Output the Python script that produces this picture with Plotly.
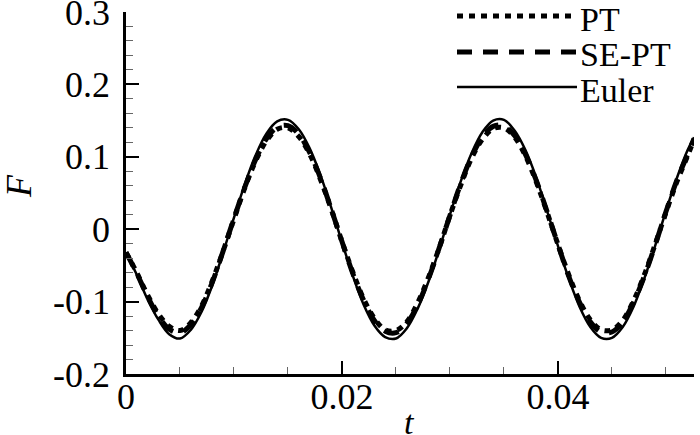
import plotly.graph_objects as go

# ---- data ----
t = [0.000, 0.001, 0.002, 0.003, 0.004, 0.005, 0.006, 0.007, 0.008, 0.009,
     0.010, 0.011, 0.012, 0.013, 0.014, 0.015, 0.016, 0.017, 0.018, 0.019,
     0.020, 0.021, 0.022, 0.023, 0.024, 0.025, 0.026, 0.027, 0.028, 0.029,
     0.030, 0.031, 0.032, 0.033, 0.034, 0.035, 0.036, 0.037, 0.038, 0.039,
     0.040, 0.041, 0.042, 0.043, 0.044, 0.045, 0.046, 0.047, 0.048, 0.049,
     0.050, 0.051, 0.052, 0.0526]

F_pt = [-0.032, -0.060, -0.091, -0.117, -0.134, -0.140, -0.129, -0.106, -0.071, -0.030,
        0.014, 0.057, 0.094, 0.122, 0.138, 0.140, 0.128, 0.104, 0.069, 0.028,
        -0.017, -0.059, -0.096, -0.123, -0.139, -0.140, -0.128, -0.102, -0.067, -0.026,
        0.019, 0.061, 0.098, 0.124, 0.139, 0.140, 0.127, 0.101, 0.065, 0.023,
        -0.021, -0.063, -0.099, -0.125, -0.139, -0.139, -0.126, -0.099, -0.063, -0.021,
        0.023, 0.065, 0.101, 0.124]

F_sept = [-0.032, -0.061, -0.093, -0.120, -0.138, -0.143, -0.132, -0.108, -0.073, -0.030,
          0.015, 0.058, 0.096, 0.125, 0.141, 0.143, 0.131, 0.106, 0.071, 0.028,
          -0.017, -0.061, -0.098, -0.126, -0.141, -0.143, -0.130, -0.105, -0.069, -0.026,
          0.019, 0.063, 0.100, 0.127, 0.142, 0.143, 0.129, 0.103, 0.067, 0.024,
          -0.021, -0.065, -0.101, -0.128, -0.142, -0.142, -0.128, -0.101, -0.065, -0.022,
          0.024, 0.067, 0.103, 0.125]

F_euler = [-0.032, -0.063, -0.097, -0.125, -0.145, -0.151, -0.139, -0.114, -0.077, -0.032,
           0.016, 0.062, 0.102, 0.132, 0.149, 0.151, 0.138, 0.112, 0.075, 0.030,
           -0.018, -0.064, -0.104, -0.133, -0.149, -0.151, -0.137, -0.110, -0.073, -0.028,
           0.020, 0.066, 0.105, 0.134, 0.150, 0.151, 0.136, 0.109, 0.071, 0.025,
           -0.023, -0.068, -0.107, -0.135, -0.150, -0.150, -0.135, -0.107, -0.068, -0.023,
           0.025, 0.070, 0.109, 0.127]

series_names = ["PT", "SE-PT", "Euler"]
x_tickvals = [0, 0.02, 0.04]
x_ticktext = ["0", "0.02", "0.04"]
y_tickvals = [-0.2, -0.1, 0, 0.1, 0.2, 0.3]
y_ticktext = ["-0.2", "-0.1", "0", "0.1", "0.2", "0.3"]

FONT = "Liberation Serif, Times New Roman, serif"
styles = [
    dict(width=5, dash="6px,6px"),
    dict(width=5, dash="15px,11px"),
    dict(width=2.5, dash="solid"),
]

fig = go.Figure()
for name, ys, st in zip(series_names, [F_pt, F_sept, F_euler], styles):
    fig.add_trace(go.Scatter(
        x=t, y=ys, mode="lines", name=name, showlegend=False,
        line=dict(color="black", width=st["width"], dash=st["dash"],
                  shape="spline", smoothing=1.0),
    ))

# ---- manual legend (long line samples like the reference) ----
L, T_, W, H = 126, 12, 568, 362
def px(xp):
    return (xp - L) / W
def py(yp):
    return (T_ + H - yp) / H

legend_rows = [16, 52, 87]
for name, st, yrow in zip(series_names, styles, legend_rows):
    fig.add_shape(type="line", xref="paper", yref="paper",
                  x0=px(457), x1=px(577), y0=py(yrow), y1=py(yrow),
                  line=dict(color="black", width=st["width"], dash=st["dash"]))
    fig.add_annotation(text=name, xref="paper", yref="paper",
                       x=px(578), y=py(yrow + 3), xanchor="left", yanchor="middle",
                       showarrow=False, font=dict(family=FONT, size=34, color="black"))

# axis titles
fig.add_annotation(text="<i>t</i>", xref="paper", yref="paper",
                   x=px(409), y=py(422), xanchor="center", yanchor="middle",
                   showarrow=False, font=dict(family=FONT, size=34, color="black"))
fig.add_annotation(text="<i>F</i>", xref="paper", yref="paper",
                   x=px(19), y=py(186), xanchor="center", yanchor="middle",
                   textangle=-90, showarrow=False,
                   font=dict(family=FONT, size=36, color="black"))

fig.update_layout(
    width=700, height=435,
    margin=dict(l=L, r=700 - L - W, t=T_, b=435 - T_ - H, autoexpand=False),
    paper_bgcolor="white", plot_bgcolor="white",
    font=dict(family=FONT, size=36, color="black"),
    xaxis=dict(range=[0, 0.0526], showgrid=False, zeroline=False,
               showline=True, linecolor="black", linewidth=2.5,
               tickvals=x_tickvals, ticktext=x_ticktext,
               ticks="inside", ticklen=13, tickwidth=2, tickcolor="black",
               ticklabelstandoff=-11, ticklabeloverflow="allow",
               minor=dict(dtick=0.005, tick0=0, ticks="inside", ticklen=7,
                          tickwidth=1, tickcolor="#666", showgrid=False),
               tickfont=dict(family=FONT, size=36, color="black")),
    yaxis=dict(range=[-0.2, 0.3], showgrid=False, zeroline=False,
               showline=True, linecolor="black", linewidth=2.5,
               tickvals=y_tickvals, ticktext=y_ticktext,
               ticks="inside", ticklen=13, tickwidth=2, tickcolor="black",
               ticklabelstandoff=6, ticklabeloverflow="allow",
               minor=dict(dtick=0.02, tick0=0, ticks="inside", ticklen=7,
                          tickwidth=1, tickcolor="#666", showgrid=False),
               tickfont=dict(family=FONT, size=36, color="black")),
)

fig.write_html("out.html",
               config={"displayModeBar": False},
               post_script="document.body.style.margin='0';document.body.style.overflow='hidden';")
